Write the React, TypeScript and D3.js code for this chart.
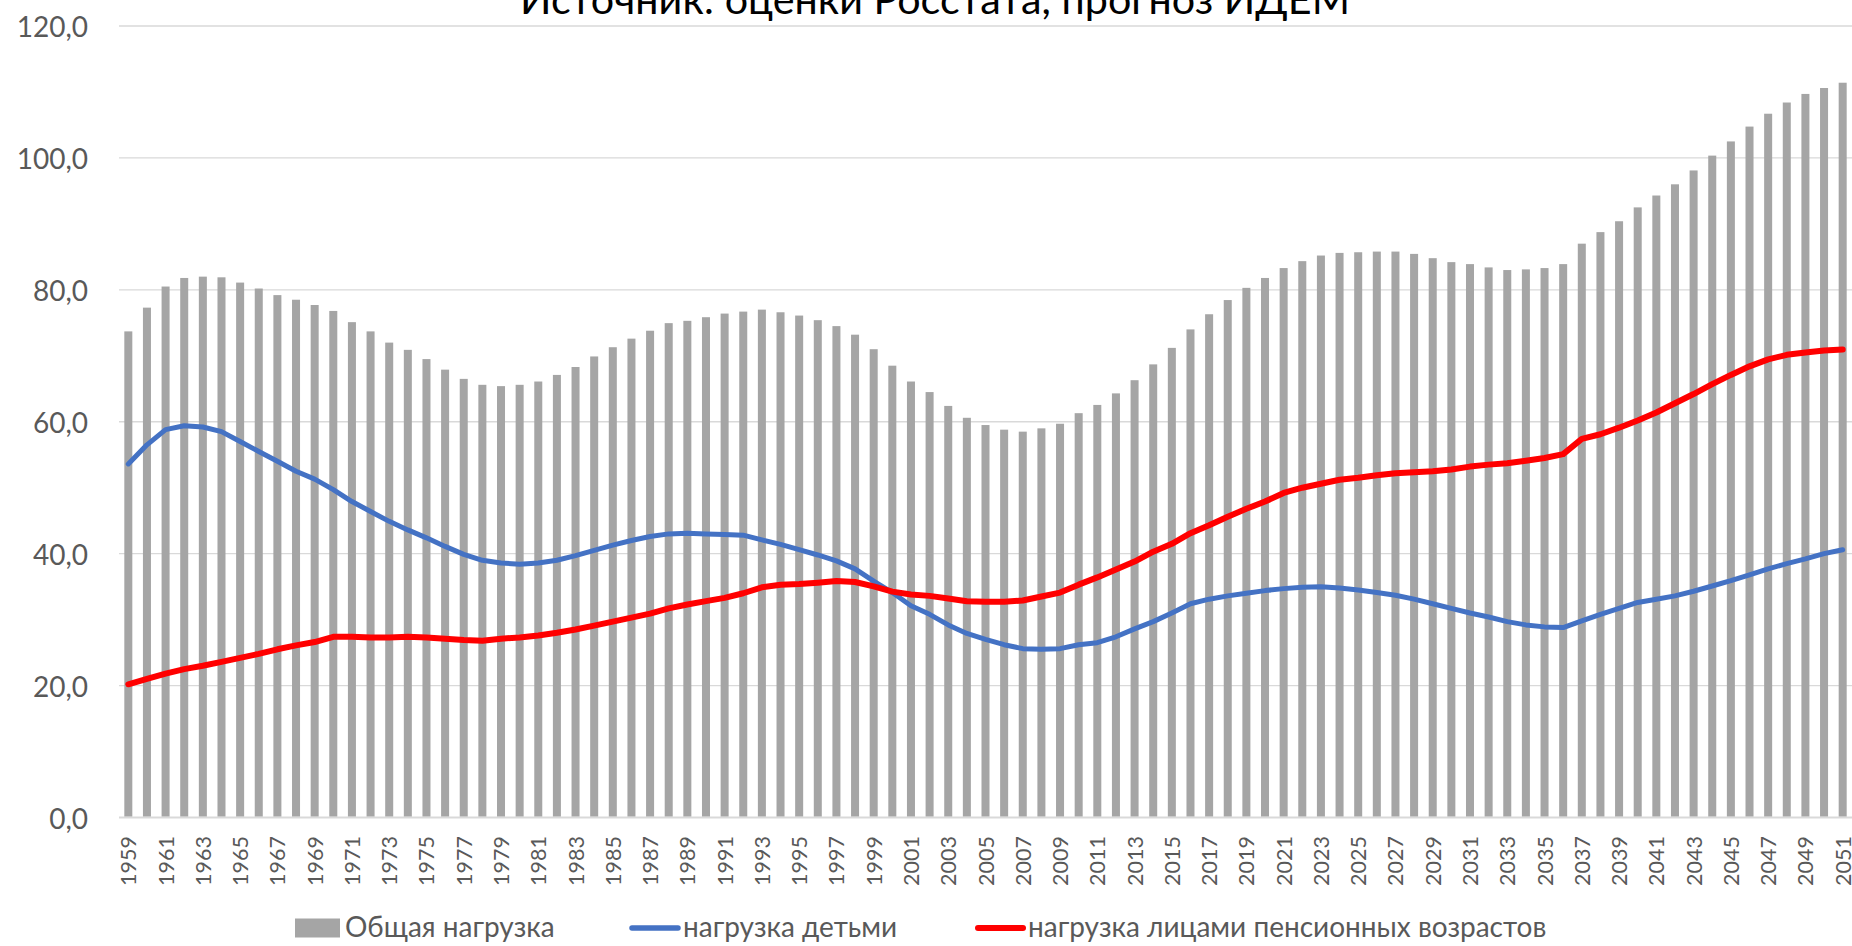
import React from "react";
import * as d3 from "d3";

const years: number[] = [
  1959, 1960, 1961, 1962, 1963, 1964, 1965, 1966, 1967, 1968,
  1969, 1970, 1971, 1972, 1973, 1974, 1975, 1976, 1977, 1978,
  1979, 1980, 1981, 1982, 1983, 1984, 1985, 1986, 1987, 1988,
  1989, 1990, 1991, 1992, 1993, 1994, 1995, 1996, 1997, 1998,
  1999, 2000, 2001, 2002, 2003, 2004, 2005, 2006, 2007, 2008,
  2009, 2010, 2011, 2012, 2013, 2014, 2015, 2016, 2017, 2018,
  2019, 2020, 2021, 2022, 2023, 2024, 2025, 2026, 2027, 2028,
  2029, 2030, 2031, 2032, 2033, 2034, 2035, 2036, 2037, 2038,
  2039, 2040, 2041, 2042, 2043, 2044, 2045, 2046, 2047, 2048,
  2049, 2050, 2051,
];

// Общая нагрузка
const total: number[] = [
  73.7, 77.3, 80.5, 81.8, 82.0, 81.9, 81.1, 80.2, 79.2, 78.5,
  77.7, 76.8, 75.1, 73.7, 72.0, 70.9, 69.5, 67.9, 66.5, 65.6,
  65.4, 65.6, 66.1, 67.1, 68.3, 69.9, 71.3, 72.6, 73.8, 74.95,
  75.3, 75.85, 76.4, 76.7, 77.0, 76.6, 76.1, 75.4, 74.5, 73.2,
  71.0, 68.5, 66.1, 64.5, 62.4, 60.6, 59.5, 58.8, 58.5, 59.0,
  59.7, 61.3, 62.55, 64.3, 66.3, 68.7, 71.2, 74.0, 76.3, 78.45,
  80.3, 81.8, 83.3, 84.35, 85.2, 85.6, 85.7, 85.8, 85.8, 85.45,
  84.8, 84.2, 83.9, 83.4, 83.0, 83.1, 83.3, 83.9, 87.0, 88.75,
  90.4, 92.5, 94.3, 96.0, 98.1, 100.35, 102.5, 104.75, 106.7, 108.4,
  109.7, 110.6, 111.4,
];

// нагрузка детьми
const children: number[] = [
  53.6, 56.5, 58.8, 59.4, 59.2, 58.5, 57.0, 55.5, 54.0, 52.5,
  51.3, 49.7, 47.9, 46.4, 44.9, 43.6, 42.4, 41.1, 39.9, 39.0,
  38.6, 38.4, 38.6, 39.0, 39.7, 40.5, 41.3, 42.0, 42.6, 43.0,
  43.1, 43.0, 42.9, 42.8, 42.1, 41.4, 40.6, 39.8, 38.9, 37.7,
  35.85, 34.1, 32.1, 30.8, 29.2, 27.9, 27.0, 26.2, 25.6, 25.5,
  25.6, 26.2, 26.5, 27.4, 28.6, 29.7, 31.0, 32.4, 33.1, 33.6,
  34.0, 34.4, 34.7, 34.9, 35.0, 34.8, 34.5, 34.1, 33.7, 33.1,
  32.4, 31.7, 31.0, 30.4, 29.7, 29.2, 28.9, 28.8, 29.8, 30.8,
  31.7, 32.6, 33.1, 33.6, 34.3, 35.1, 35.9, 36.8, 37.7, 38.5,
  39.2, 40.0, 40.6,
];

// нагрузка лицами пенсионных возрастов
const pensioners: number[] = [
  20.2, 21.0, 21.8, 22.5, 23.0, 23.6, 24.2, 24.8, 25.5, 26.1,
  26.6, 27.4, 27.4, 27.3, 27.3, 27.4, 27.3, 27.1, 26.9, 26.8,
  27.1, 27.3, 27.6, 28.0, 28.5, 29.1, 29.7, 30.3, 30.9, 31.7,
  32.3, 32.8, 33.3, 34.0, 34.9, 35.3, 35.4, 35.6, 35.85, 35.7,
  35.05, 34.25, 33.8, 33.6, 33.2, 32.8, 32.7, 32.7, 32.9, 33.5,
  34.1, 35.3, 36.4, 37.6, 38.8, 40.3, 41.5, 43.1, 44.3, 45.6,
  46.8, 47.9, 49.2, 50.0, 50.6, 51.2, 51.5, 51.9, 52.2, 52.35,
  52.5, 52.75, 53.2, 53.5, 53.7, 54.1, 54.5, 55.1, 57.4, 58.1,
  59.1, 60.2, 61.4, 62.8, 64.2, 65.7, 67.1, 68.4, 69.45, 70.15,
  70.5, 70.8, 70.95,
];

const yTicks: number[] = [0, 20, 40, 60, 80, 100, 120];
const xTickLabels: number[] = years.filter((_, i) => i % 2 === 0);

const titleText = "Источник: оценки Росстата, прогноз ИДЕМ";
const legendLabels: string[] = [
  "Общая нагрузка",
  "нагрузка детьми",
  "нагрузка лицами пенсионных возрастов",
];

const COLORS = {
  bar: "#a5a5a5",
  blue: "#4472c4",
  red: "#ff0000",
  grid: "#d9d9d9",
  text: "#595959",
};

const FONT = "Lato, 'Open Sans', 'DejaVu Sans', sans-serif";

export default function App() {
  const W = 1852;
  const H = 946;
  const plotLeft = 119;
  const plotRight = 1852;
  const y0 = 817.5;
  const yTop = 26;

  const x = d3
    .scaleBand<number>()
    .domain(years)
    .range([plotLeft, plotRight])
    .paddingInner(0.57)
    .paddingOuter(0.285);
  const y = d3.scaleLinear().domain([0, 120]).range([y0, yTop]);
  const cx = (yr: number) => (x(yr) as number) + x.bandwidth() / 2;

  const line = d3
    .line<number>()
    .x((_, i) => cx(years[i]))
    .y((d) => y(d))
    .curve(d3.curveLinear);

  const fmt = (v: number) => v.toFixed(1).replace(".", ",");

  return (
    <svg
      width={W}
      height={H}
      style={{ position: "absolute", left: 0, top: 0, display: "block", background: "#fff" }}
      fontFamily={FONT}
    >
      <rect x={0} y={0} width={W} height={H} fill="#ffffff" />
      {/* gridlines */}
      {yTicks.map((t) => (
        <line
          key={"g" + t}
          x1={plotLeft}
          x2={plotRight}
          y1={y(t)}
          y2={y(t)}
          stroke={COLORS.grid}
          strokeWidth={t === 0 ? 2 : 1.3}
        />
      ))}
      {/* y labels */}
      {yTicks.map((t) => (
        <text
          key={"yl" + t}
          x={88}
          y={y(t)}
          textAnchor="end"
          dominantBaseline="central"
          fontSize={28}
          fill={COLORS.text}
        >
          {fmt(t)}
        </text>
      ))}
      {/* bars */}
      {total.map((v, i) => (
        <rect
          key={"b" + i}
          x={x(years[i])}
          y={y(v)}
          width={x.bandwidth()}
          height={y(0) - y(v) - 1}
          fill={COLORS.bar}
        />
      ))}
      {/* lines */}
      <path
        d={line(children) || ""}
        fill="none"
        stroke={COLORS.blue}
        strokeWidth={5}
        strokeLinejoin="round"
        strokeLinecap="round"
      />
      <path
        d={line(pensioners) || ""}
        fill="none"
        stroke={COLORS.red}
        strokeWidth={6}
        strokeLinejoin="round"
        strokeLinecap="round"
      />
      {/* x labels */}
      {xTickLabels.map((yr) => (
        <text
          key={"xl" + yr}
          transform={`translate(${cx(yr)},836) rotate(-90)`}
          textAnchor="end"
          dominantBaseline="central"
          fontSize={21.5}
          fill={COLORS.text}
        >
          {yr}
        </text>
      ))}
      {/* title (clipped at top) */}
      <text
        x={935}
        y={14}
        textAnchor="middle"
        fontSize={40}
        fill="#000"
        textLength={830}
        lengthAdjust="spacingAndGlyphs"
      >
        {titleText}
      </text>
      {/* legend */}
      <rect x={295} y={918.5} width={45} height={19} fill={COLORS.bar} />
      <text x={345} y={937} fontSize={28} fill={COLORS.text}>
        {legendLabels[0]}
      </text>
      <line x1={632} x2={678} y1={928} y2={928} stroke={COLORS.blue} strokeWidth={5.5} strokeLinecap="round" />
      <text x={683} y={937} fontSize={28} fill={COLORS.text}>
        {legendLabels[1]}
      </text>
      <line x1={978} x2={1023} y1={928} y2={928} stroke={COLORS.red} strokeWidth={6} strokeLinecap="round" />
      <text x={1028} y={937} fontSize={28} fill={COLORS.text}>
        {legendLabels[2]}
      </text>
    </svg>
  );
}
